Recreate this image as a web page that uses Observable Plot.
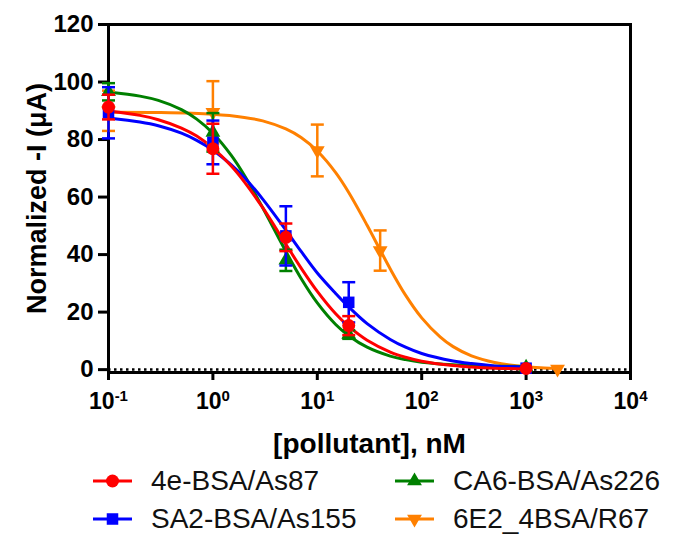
<!DOCTYPE html>
<html>
<head>
<meta charset="utf-8">
<script src="https://cdn.jsdelivr.net/npm/d3@7"></script>
<script src="https://cdn.jsdelivr.net/npm/@observablehq/plot@0.6"></script>
<style>
  body { margin: 0; background: #fff; font-family: "Liberation Sans", Arial, sans-serif; }
  #chart svg { display: block; }
  #legend { display: grid; grid-template-columns: 302px auto; padding-left: 93px; }
  .item { display: flex; align-items: center; height: 38px; font-size: 28px; color: #111; }
  .item svg { margin-right: 19px; }
</style>
</head>
<body>
<div id="chart"></div>
<div id="legend"></div>
<script>
// measured points (x = concentration nM, y = normalized current, sd = error bar)
const xPts = [0.1, 1, 5, 20, 1000]
const redY = [91.3, 76.8, 46, 15.3, 0.4]
const redSd = [4.3, 8.7, 4.8, 3.3, 0]
const blueY = [89.3, 79, 46.5, 23.4, 0.5]
const blueSd = [8.9, 7.6, 10.3, 7, 0]
const greenY = [96.6, 82.5, 38, 12.2, 0.8]
const greenSd = [3, 6.7, 3.7, 1.5, 0]
const xOrange = [0.1, 1, 10, 40, 2000]
const orangeY = [90, 89.5, 76.2, 41.4, 0.2]
const orangeSd = [7, 10.8, 9, 7, 0]

// fitted curves
const fitX = [0.1, 0.2, 0.3, 0.5, 0.7, 1, 1.5, 2, 3, 5, 7, 10, 15, 20, 30, 50, 70, 100, 200, 300, 500, 1000]
const fitRed = [89.9, 88.4, 86.9, 84.0, 81.2, 77.0, 70.8, 65.3, 56.3, 43.6, 35.3, 27.2, 19.4, 15.0, 10.2, 6.1, 4.3, 2.9, 1.4, 0.9, 0.5, 0.25]
const fitBlue = [87.5, 86.1, 84.8, 82.2, 79.7, 76.3, 71.2, 66.8, 59.3, 48.5, 41.1, 33.6, 26.5, 21.8, 16, 10.5, 7.8, 5.6, 3, 2.1, 1.3, 0.8]
const fitGreen = [96.5, 95.1, 93.6, 90.4, 87.1, 82.2, 74.5, 67.6, 56.3, 41.1, 31.7, 23.2, 15.7, 11.8, 7.8, 4.7, 3.5, 2.6, 1.7, 1.4, 1.2, 1.1]
const fitXOrange = [0.1, 0.3, 1, 2, 3, 5, 7, 10, 15, 20, 30, 40, 50, 70, 100, 150, 200, 300, 500, 1000, 1500, 2000]
const fitOrange = [89.5, 89.4, 88.8, 87.7, 86.5, 83.7, 80.7, 76.0, 68.5, 61.6, 50.2, 41.6, 35.0, 25.9, 18.0, 11.4, 8.0, 4.8, 2.5, 1.0, 0.6, 0.4]

const xTicks = [0.1, 1, 10, 100, 1000, 10000]
const yTicks = [0, 20, 40, 60, 80, 100, 120]

const triangleDown = {
  draw(ctx, size) {
    const y = -Math.sqrt(size / (Math.sqrt(3) * 3))
    ctx.moveTo(0, -y * 2)
    ctx.lineTo(-Math.sqrt(3) * y, y)
    ctx.lineTo(Math.sqrt(3) * y, y)
    ctx.closePath()
  }
}
// horizontal cap for the error bars
const cap = {
  draw(ctx, size) {
    const w = Math.sqrt(size / Math.PI)
    ctx.moveTo(-w, 0)
    ctx.lineTo(w, 0)
  }
}

const series = [
  {name: "6E2_4BSA/R67", color: "#ff8000", symbol: triangleDown, r: 5.5, xs: xOrange, ys: orangeY, sds: orangeSd, fx: fitXOrange, fy: fitOrange},
  {name: "CA6-BSA/As226", color: "#008000", symbol: d3.symbolTriangle, r: 5.5, xs: xPts, ys: greenY, sds: greenSd, fx: fitX, fy: fitGreen},
  {name: "SA2-BSA/As155", color: "#0000ff", symbol: d3.symbolSquare, r: 6.5, xs: xPts, ys: blueY, sds: blueSd, fx: fitX, fy: fitBlue},
  {name: "4e-BSA/As87", color: "#ff0000", symbol: d3.symbolCircle, r: 6.5, xs: xPts, ys: redY, sds: redSd, fx: fitX, fy: fitRed},
]

let curveMarks = []
let pointMarks = []
series.forEach(s => {
  let pts = s.xs.map((x, i) => ({x: x, y: s.ys[i], sd: s.sds[i]}))
  let fit = s.fx.map((x, i) => ({x: x, y: s.fy[i]}))
  let bars = pts.filter(d => d.sd > 0)
  curveMarks.push(Plot.line(fit, {x: "x", y: "y", stroke: s.color, strokeWidth: 3, curve: "catmull-rom"}))
  pointMarks.push(
    Plot.link(bars, {x1: "x", x2: "x", y1: d => d.y - d.sd, y2: d => d.y + d.sd, stroke: s.color, strokeWidth: 2.5}),
    Plot.dot(bars, {x: "x", y: d => d.y + d.sd, symbol: cap, r: 6.5, stroke: s.color, strokeWidth: 2.5, fill: "none"}),
    Plot.dot(bars, {x: "x", y: d => d.y - d.sd, symbol: cap, r: 6.5, stroke: s.color, strokeWidth: 2.5, fill: "none"}),
    Plot.dot(pts, {x: "x", y: "y", symbol: s.symbol, r: s.r, fill: s.color, stroke: "none"})
  )
})

let chart = Plot.plot({
  width: 674,
  height: 462,
  marginTop: 24,
  marginLeft: 108,
  marginRight: 44,
  marginBottom: 90,
  style: {fontFamily: "'Liberation Sans', Arial, sans-serif", color: "black", background: "white", overflow: "visible"},
  x: {type: "log", domain: [0.1, 10000]},
  y: {domain: [-1, 120]},
  marks: [
    Plot.ruleY([0], {strokeWidth: 2.5, strokeDasharray: "2.5,3.5"}),
    Plot.frame({strokeWidth: 3}),
    Plot.axisY(yTicks, {tickSize: 10, tickPadding: 5, strokeWidth: 3, fontSize: 24, fontWeight: "bold",
      label: "Normalized -I (μA)", labelAnchor: "center", labelOffset: 82, labelArrow: "none"}),
    Plot.axisX(xTicks, {tickSize: 8, tickPadding: 12, strokeWidth: 3, fontSize: 22, fontWeight: "bold",
      tickFormat: d => "10^" + Math.round(Math.log10(d)),
      label: "[pollutant], nM", labelAnchor: "center", labelOffset: 80, labelArrow: "none"}),
    ...curveMarks,
    ...pointMarks,
  ],
})

// superscript exponents on the log axis
d3.select(chart).selectAll('g[aria-label="x-axis tick label"] text').each(function() {
  let [base, exp] = this.textContent.split("^")
  let t = d3.select(this).text(null).style("font-size", "23px").style("font-weight", "bold")
  t.append("tspan").style("font-size", "23px").text(base)
  t.append("tspan").attr("dy", -8).style("font-size", "15px").text(exp)
})
d3.select(chart).selectAll('g[aria-label="y-axis tick label"] text')
  .style("font-size", "24px").style("font-weight", "bold")
d3.select(chart).select('g[aria-label="y-axis label"] text')
  .text("Normalized -I (μA)").style("font-size", "27px").style("font-weight", "bold")
d3.select(chart).select('g[aria-label="x-axis label"] text')
  .text("[pollutant], nM").style("font-size", "28px").style("font-weight", "bold")

d3.select('#chart').append(() => chart)

// legend below the plot
const legendOrder = [3, 1, 2, 0]
legendOrder.forEach(i => {
  let s = series[i]
  let item = d3.select('#legend').append('div').attr('class', 'item')
  let sw = item.append('svg').attr('width', 39).attr('height', 20)
  sw.append('line').attr('x1', 0).attr('x2', 39).attr('y1', 10).attr('y2', 10)
    .attr('stroke', s.color).attr('stroke-width', 3)
  sw.append('path').attr('transform', 'translate(19.5,10)')
    .attr('d', d3.symbol(s.symbol, Math.PI * s.r * s.r)()).attr('fill', s.color)
  item.append('span').text(s.name)
})
</script>
</body>
</html>
